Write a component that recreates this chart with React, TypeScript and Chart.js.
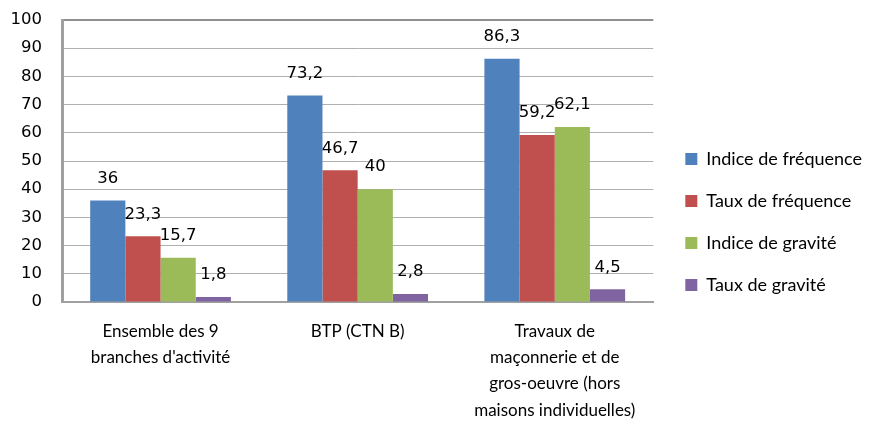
import React, { useEffect, useRef } from "react";
import { Chart, registerables } from "chart.js";

Chart.register(...registerables);

const categories: string[][] = [
  ["Ensemble des 9", "branches d'activité"],
  ["BTP (CTN B)"],
  ["Travaux de", "maçonnerie et de", "gros-oeuvre (hors", "maisons individuelles)"],
];
const seriesNames = ["Indice de fréquence", "Taux de fréquence", "Indice de gravité", "Taux de gravité"];
const indiceFrequence = [36, 73.2, 86.3];
const tauxFrequence = [23.3, 46.7, 59.2];
const indiceGravite = [15.7, 40, 62.1];
const tauxGravite = [1.8, 2.8, 4.5];
const colors = ["#4F81BD", "#C0504D", "#9BBB59", "#8064A2"];
const yTicks = [0, 10, 20, 30, 40, 50, 60, 70, 80, 90, 100];

const valueLabels = {
  id: "valueLabels",
  afterDatasetsDraw(chart: any) {
    const ctx = chart.ctx;
    ctx.save();
    ctx.font = "16.5px 'DejaVu Sans'";
    ctx.fillStyle = "#000";
    ctx.textAlign = "center";
    ctx.textBaseline = "middle";
    chart.data.datasets.forEach((ds: any, di: number) => {
      const meta = chart.getDatasetMeta(di);
      meta.data.forEach((bar: any, i: number) => {
        const v = ds.data[i];
        ctx.fillText(String(v).replace(".", ","), bar.x, bar.y - 22);
      });
    });
    ctx.restore();
  },
};

const legendShift = {
  id: "legendShift",
  afterLayout(chart: any) {
    const lg = chart.legend;
    if (lg) {
      lg.left += 8;
      lg.right += 8;
    }
  },
};

export default function App() {
  const ref = useRef<HTMLCanvasElement>(null);
  useEffect(() => {
    if (!ref.current) return;
    const data = [indiceFrequence, tauxFrequence, indiceGravite, tauxGravite];
    const chart = new Chart(ref.current, {
      type: "bar",
      data: {
        labels: categories as any,
        datasets: data.map((d, i) => ({
          label: seriesNames[i],
          data: d,
          backgroundColor: colors[i],
          borderWidth: 0,
          categoryPercentage: 0.714,
          barPercentage: 1,
        })),
      },
      options: {
        animation: false,
        responsive: false,
        maintainAspectRatio: false,
        layout: { padding: { top: 20, left: 0, right: 12, bottom: 0 } },
        plugins: {
          legend: {
            position: "right",
            labels: {
              boxWidth: 12,
              boxHeight: 12,
              padding: 24,
              color: "#000",
              font: { family: "Lato", size: 18 },
            },
          },
          tooltip: { enabled: false },
        },
        scales: {
          x: {
            grid: { display: false, drawTicks: false },
            border: { display: true, color: "#a0a0a0", width: 2 },
            afterFit: (scale: any) => {
              scale.height = 122;
            },
            ticks: {
              color: "#000",
              font: { family: "Lato", size: 17, lineHeight: 1.55 },
              padding: 16,
              maxRotation: 0,
              autoSkip: false,
            },
          },
          y: {
            min: 0,
            max: 100,
            afterBuildTicks: (axis: any) => {
              axis.ticks = yTicks.map((v) => ({ value: v }));
            },
            afterFit: (scale: any) => {
              scale.width = 62;
            },
            grid: {
              color: (c: any) => (c.tick && c.tick.value === 100 ? "#909090" : "#b0b0b0"),
              lineWidth: (c: any) => (c.tick && c.tick.value === 100 ? 2 : 1),
              drawTicks: true,
              tickLength: 18,
              tickColor: "rgba(0,0,0,0)",
            },
            border: { display: true, color: "#a0a0a0", width: 3 },
            ticks: {
              color: "#000",
              font: { family: "DejaVu Sans", size: 16.5 },
              padding: 2,
            },
          },
        },
      },
      plugins: [valueLabels, legendShift],
    });
    return () => chart.destroy();
  }, []);
  return (
    <div style={{ position: "fixed", left: 0, top: 0, width: 876, height: 424, background: "#fff" }}>
      <canvas ref={ref} width={876} height={424} />
    </div>
  );
}
